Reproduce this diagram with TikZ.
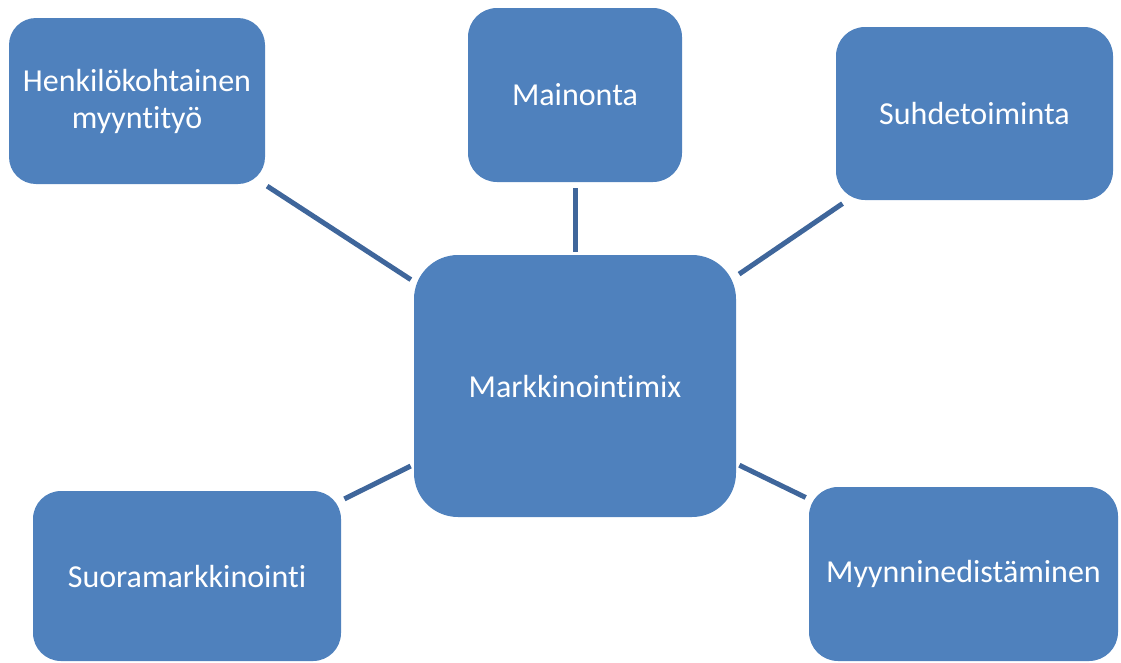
\documentclass[tikz,border=0pt]{standalone}
\usepackage{fontspec}
\setmainfont{Carlito}[RawFeature={-liga;-clig;-dlig;-calt}]
\definecolor{boxfill}{HTML}{4F81BD}
\definecolor{linkcol}{HTML}{3F669B}
\begin{document}
\begin{tikzpicture}[x=1pt,y=-1pt,
  box/.style={draw=none, fill=boxfill, text=white, align=center,
    font=\fontsize{32}{37}\selectfont, inner sep=0pt, rectangle},
  link/.style={draw=linkcol, line width=5pt, shorten <=3.5pt, shorten >=3.5pt}]
\useasboundingbox (0,0) rectangle (1121,662);
\node[box, minimum width=256pt, minimum height=166pt, rounded corners=27pt] (henk) at (137,101) {Henkilökohtainen\\myyntityö};
\node[box, minimum width=214pt, minimum height=174pt, rounded corners=29pt] (main) at (575,95) {Mainonta};
\node[box, minimum width=277pt, minimum height=173pt, rounded corners=29pt] (suhde) at (974.5,113.5) {Suhdetoiminta};
\node[box, minimum width=322pt, minimum height=262pt, rounded corners=44pt] (mix) at (575,386) {Markkinointimix};
\node[box, minimum width=308pt, minimum height=170pt, rounded corners=28pt] (suora) at (187,576) {Suoramarkkinointi};
\node[box, minimum width=309pt, minimum height=174pt, rounded corners=29pt] (myyn) at (963.5,574) {Myynninedistäminen};
\draw[link] (henk) -- (mix);
\draw[link, shorten <=6pt, shorten >=3pt] (main) -- (mix);
\draw[link, shorten <=6pt] (suhde) -- (mix);
\draw[link] (suora) -- (mix);
\draw[link] (myyn) -- (mix);
\end{tikzpicture}
\end{document}
